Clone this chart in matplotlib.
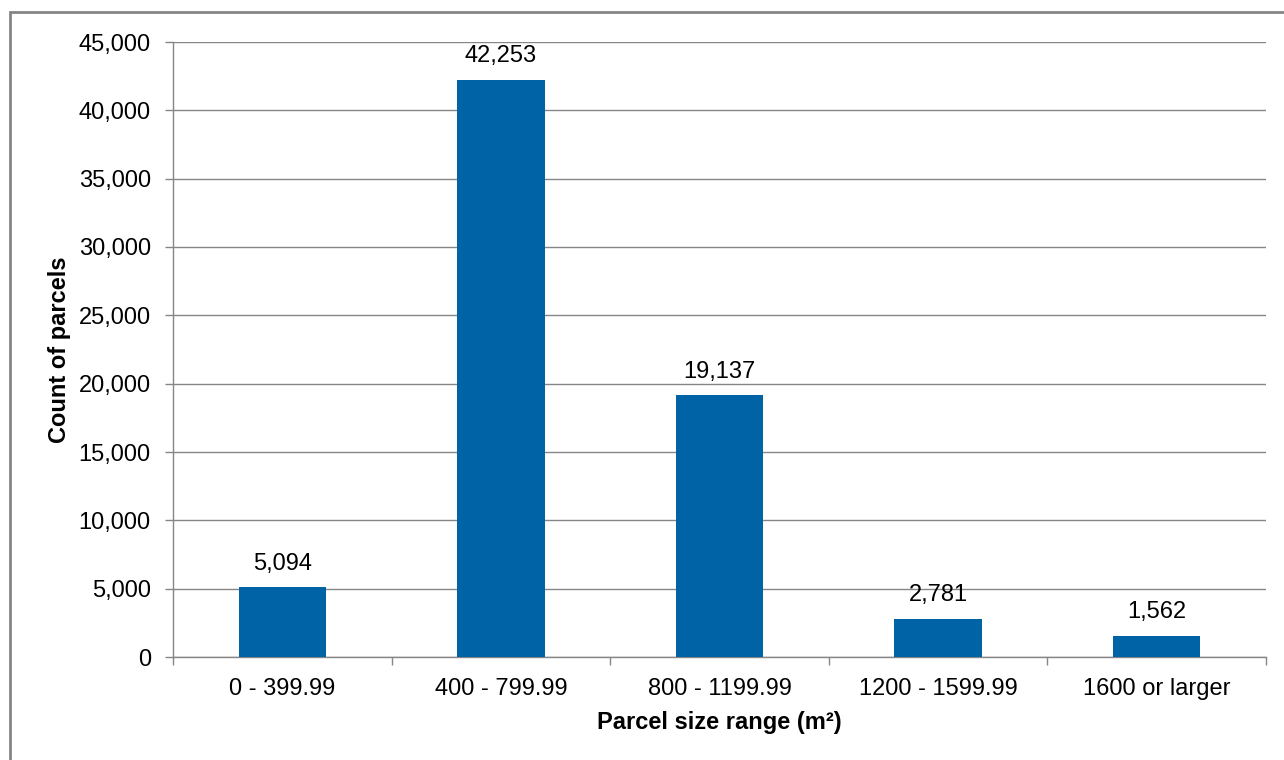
import matplotlib
matplotlib.use("Agg")
import matplotlib.pyplot as plt
from matplotlib.patches import Rectangle
from matplotlib.ticker import FuncFormatter, FixedLocator

categories = ["0 - 399.99", "400 - 799.99", "800 - 1199.99", "1200 - 1599.99", "1600 or larger"]
counts = [5094, 42253, 19137, 2781, 1562]
y_ticks = [0, 5000, 10000, 15000, 20000, 25000, 30000, 35000, 40000, 45000]

plt.rcParams["font.family"] = ["Liberation Sans", "DejaVu Sans"]

BAR = "#0063A6"
GRID = "#868686"
TEXT = "#000000"

fig = plt.figure(figsize=(12.84, 7.6), dpi=100)
fig.patch.set_facecolor("white")

# outer chart frame (extends past the right and bottom edges)
fig.add_artist(Rectangle((10.5 / 1284, -0.1), 1.2, 1 - 12 / 760 + 0.1,
                         transform=fig.transFigure, fill=False,
                         edgecolor="#858585", linewidth=2.0))

ax = fig.add_axes([173 / 1284, 1 - 657 / 760, (1266 - 173) / 1284, (657 - 42) / 760])

x = list(range(len(categories)))
ax.bar(x, counts, width=0.4, color=BAR, zorder=3)

for xi, v in zip(x, counts):
    ax.annotate(f"{v:,}", (xi, v), xytext=(0, 9), textcoords="offset points",
                ha="center", va="bottom", fontsize=17, color=TEXT)

ax.set_xlim(-0.5, len(categories) - 0.5)
ax.set_ylim(0, 45000)
ax.set_yticks(y_ticks)
ax.yaxis.set_major_formatter(FuncFormatter(lambda v, p: f"{int(v):,}"))
ax.yaxis.grid(True, color=GRID, linewidth=1.0, zorder=0)

# category boundaries get tick marks, centers get the labels
ax.xaxis.set_major_locator(FixedLocator([i - 0.5 for i in range(len(categories) + 1)]))
ax.xaxis.set_major_formatter(FuncFormatter(lambda v, p: ""))
ax.xaxis.set_minor_locator(FixedLocator(x))
ax.set_xticklabels(categories, minor=True)
ax.tick_params(axis="x", which="major", length=6, width=1.0, color=GRID, direction="out")
ax.tick_params(axis="x", which="minor", length=0, pad=15, labelsize=17, labelcolor=TEXT)
ax.tick_params(axis="y", length=6, width=1.0, color=GRID, direction="out",
               pad=10, labelsize=17, labelcolor=TEXT)

for s in ("top", "right"):
    ax.spines[s].set_visible(False)
for s in ("left", "bottom"):
    ax.spines[s].set_color(GRID)
    ax.spines[s].set_linewidth(1.0)

ax.set_ylabel("Count of parcels", fontsize=17, fontweight="bold")
ax.set_xlabel("Parcel size range (m²)", fontsize=17, fontweight="bold", labelpad=8)
ax.yaxis.set_label_coords(-0.093, 0.5)

fig.savefig("out.png", dpi=100)
